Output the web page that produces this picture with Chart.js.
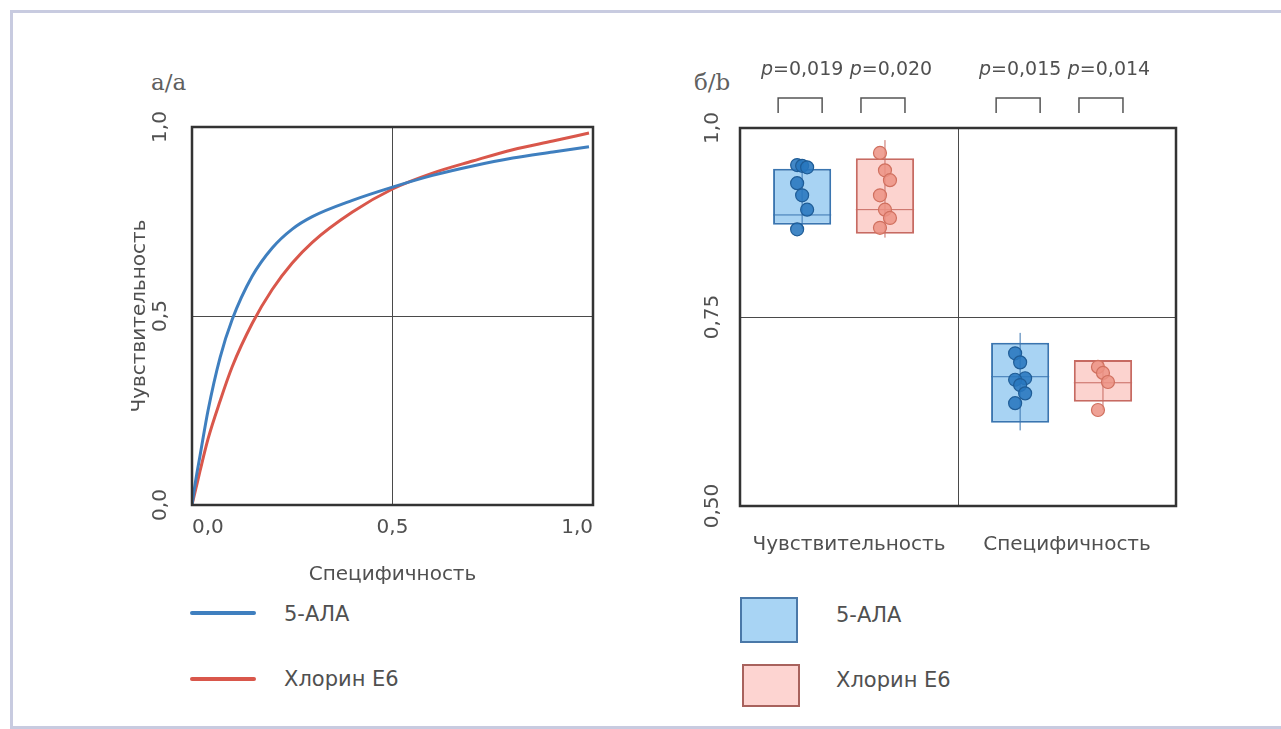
<!DOCTYPE html>
<html lang="ru">
<head>
<meta charset="utf-8">
<title>ROC-кривые: 5-АЛА и Хлорин Е6</title>
<script src="https://cdn.jsdelivr.net/npm/chart.js@4.4.1/dist/chart.umd.min.js"></script>
<style>
  html, body { margin: 0; padding: 0; background: #ffffff; }
  body { width: 1281px; height: 729px; position: relative; overflow: hidden;
         font-family: "DejaVu Sans", sans-serif; color: #505050; }
  .frame { position: absolute; left: 10px; top: 10px; width: 1320px; height: 719px;
           border: 3px solid #c8cbe0; border-right: none; box-sizing: border-box; }
  canvas { position: absolute; }
  #roc { left: 100px; top: 60px; }
  #box { left: 680px; top: 40px; }
  .panel { position: absolute; font-family: "DejaVu Serif", serif; font-size: 23px;
           line-height: 28px; color: #606060; }
  .lg-text { position: absolute; font-size: 21px; line-height: 26px; color: #505050; }
  .lg-line { position: absolute; height: 4px; border-radius: 2px; }
  .lg-box { position: absolute; box-sizing: border-box; border: 2.5px solid; }
</style>
</head>
<body>
<div class="frame"></div>

<div class="panel" style="left:151px; top:68px;">a/a</div>
<div class="panel" style="left:694px; top:68px;">б/b</div>

<canvas id="roc" width="510" height="540"></canvas>
<canvas id="box" width="560" height="540"></canvas>

<!-- legend of the ROC panel -->
<div class="lg-line" style="left:190px; top:611px; width:66px; background:#3f7fbf;"></div>
<div class="lg-text" style="left:284px; top:601px;">5-АЛА</div>
<div class="lg-line" style="left:190px; top:677px; width:66px; background:#d9574b;"></div>
<div class="lg-text" style="left:284px; top:666px;">Хлорин Е6</div>

<!-- legend of the box panel -->
<div class="lg-box" style="left:740px; top:597px; width:58px; height:46px; background:#a8d4f4; border-color:#4a78a8;"></div>
<div class="lg-text" style="left:836px; top:602px;">5-АЛА</div>
<div class="lg-box" style="left:742px; top:664px; width:58px; height:43px; background:#fdd4d1; border-color:#a8625d;"></div>
<div class="lg-text" style="left:836px; top:667px;">Хлорин Е6</div>

<script>
// ---- ROC curves ----
const rocFpr     = [0, 0.01, 0.02, 0.04, 0.07, 0.10, 0.15, 0.20, 0.25, 0.30, 0.40, 0.50, 0.60, 0.70, 0.80, 0.90, 0.99];
const rocAla     = [0.00, 0.07, 0.13, 0.25, 0.39, 0.49, 0.605, 0.68, 0.73, 0.763, 0.806, 0.841, 0.872, 0.897, 0.918, 0.934, 0.948];
const rocChlorin = [0.00, 0.045, 0.09, 0.175, 0.275, 0.365, 0.48, 0.57, 0.64, 0.695, 0.775, 0.836, 0.878, 0.910, 0.940, 0.963, 0.984];
const rocTickLabels = ['0,0', '0,5', '1,0'];

// ---- Box plots: sensitivity and specificity ----
const groups = ['Чувствительность', 'Специфичность'];
const seriesNames = ['5-АЛА', 'Хлорин Е6'];
const alaQ1  = [0.872, 0.610];
const alaMed = [0.885, 0.671];
const alaQ3  = [0.946, 0.716];
const alaMin = [0.866, 0.600];
const alaMax = [0.951, 0.729];
const alaPoints = [
  [0.951, 0.950, 0.948, 0.927, 0.911, 0.892, 0.866],
  [0.702, 0.690, 0.669, 0.667, 0.660, 0.649, 0.636]
];
const chlQ1  = [0.860, 0.638];
const chlMed = [0.892, 0.663];
const chlQ3  = [0.960, 0.693];
const chlMin = [0.855, 0.627];
const chlMax = [0.984, 0.693];
const chlPoints = [
  [0.967, 0.944, 0.931, 0.911, 0.892, 0.881, 0.868],
  [0.684, 0.676, 0.664, 0.627]
];
const alaP = ['0,019', '0,015'];
const chlP = ['0,020', '0,014'];
const boxTickLabels = ['0,50', '0,75', '1,0'];

const TEXT = '#505050';
const GRID = '#4a4a4a';
const tickFont = { family: 'DejaVu Sans', size: 20 };

// Dark frame around a plot area
const plotFrame = {
  id: 'plotFrame',
  afterDraw(chart) {
    const { ctx, chartArea: a } = chart;
    ctx.save();
    ctx.strokeStyle = '#333333';
    ctx.lineWidth = 2.5;
    ctx.strokeRect(a.left, a.top, a.right - a.left, a.bottom - a.top);
    ctx.restore();
  }
};

new Chart(document.getElementById('roc'), {
  type: 'line',
  data: {
    datasets: [
      { label: seriesNames[0], data: rocFpr.map((x, i) => ({ x, y: rocAla[i] })),
        borderColor: '#3f7fbf', borderWidth: 3, pointRadius: 0, fill: false,
        cubicInterpolationMode: 'monotone' },
      { label: seriesNames[1], data: rocFpr.map((x, i) => ({ x, y: rocChlorin[i] })),
        borderColor: '#d9574b', borderWidth: 3, pointRadius: 0, fill: false,
        cubicInterpolationMode: 'monotone' }
    ]
  },
  options: {
    responsive: false, animation: false, events: [],
    layout: { padding: { top: 67, right: 17, left: 0, bottom: 0 } },
    plugins: { legend: { display: false }, tooltip: { enabled: false } },
    scales: {
      x: {
        type: 'linear', min: 0, max: 1,
        afterFit: s => { s.height = 95; },
        border: { display: false },
        grid: { drawTicks: false, lineWidth: 1,
                color: c => (c.tick && c.tick.value === 0.5) ? GRID : 'rgba(0,0,0,0)' },
        ticks: { stepSize: 0.5, align: 'inner', padding: 11, color: TEXT, font: tickFont,
                 callback: (v, i) => rocTickLabels[i] },
        title: { display: true, text: 'Специфичность', color: TEXT, font: tickFont,
                 padding: { top: 0, bottom: 13 } }
      },
      y: {
        type: 'linear', min: 0, max: 1,
        afterFit: s => { s.width = 92; },
        border: { display: false },
        grid: { drawTicks: false, lineWidth: 1,
                color: c => (c.tick && c.tick.value === 0.5) ? GRID : 'rgba(0,0,0,0)' },
        ticks: { stepSize: 0.5, minRotation: 90, maxRotation: 90, crossAlign: 'center',
                 padding: 15, color: TEXT, font: tickFont,
                 callback: (v, i) => rocTickLabels[i] },
        title: { display: true, text: 'Чувствительность', color: TEXT, font: tickFont,
                 padding: { top: 28, bottom: 0 } }
      }
    }
  },
  plugins: [plotFrame]
});

// Per-series box statistics, in dataset order
const boxStats = [
  { med: alaMed, min: alaMin, max: alaMax, points: alaPoints, p: alaP, textShift: 0,
    line: '#3a75b0', dot: 'rgba(40,118,190,0.88)', dotEdge: '#1f5c96' },
  { med: chlMed, min: chlMin, max: chlMax, points: chlPoints, p: chlP, textShift: 6,
    line: '#c76a62', dot: 'rgba(236,146,132,0.85)', dotEdge: '#d0705f' }
];

// Whiskers, medians and individual observations on top of each box
const boxDetails = {
  id: 'boxDetails',
  afterDatasetsDraw(chart) {
    const { ctx } = chart;
    const y = chart.scales.y;
    boxStats.forEach((st, di) => {
      chart.getDatasetMeta(di).data.forEach((bar, i) => {
        const cx = bar.x, hw = bar.width / 2;
        ctx.save();
        ctx.strokeStyle = st.line;
        ctx.lineWidth = 1;
        ctx.beginPath();
        ctx.moveTo(cx, y.getPixelForValue(st.min[i]));
        ctx.lineTo(cx, y.getPixelForValue(st.max[i]));
        ctx.stroke();
        ctx.beginPath();
        ctx.moveTo(cx - hw, y.getPixelForValue(st.med[i]));
        ctx.lineTo(cx + hw, y.getPixelForValue(st.med[i]));
        ctx.stroke();
        st.points[i].forEach((v, k) => {
          const dx = ((k % 3) - 1) * 5;
          ctx.beginPath();
          ctx.arc(cx + dx, y.getPixelForValue(v), 6.5, 0, Math.PI * 2);
          ctx.fillStyle = st.dot;
          ctx.fill();
          ctx.lineWidth = 1.2;
          ctx.strokeStyle = st.dotEdge;
          ctx.stroke();
        });
        ctx.restore();
      });
    });
  }
};

// Significance brackets with p-values above every box
const pValues = {
  id: 'pValues',
  afterDraw(chart) {
    const { ctx, chartArea: a } = chart;
    boxStats.forEach((st, di) => {
      chart.getDatasetMeta(di).data.forEach((bar, i) => {
        const cx = bar.x - 2;
        ctx.save();
        ctx.strokeStyle = '#555555';
        ctx.lineWidth = 1.5;
        ctx.beginPath();
        ctx.moveTo(cx - 22, a.top - 15);
        ctx.lineTo(cx - 22, a.top - 30);
        ctx.lineTo(cx + 22, a.top - 30);
        ctx.lineTo(cx + 22, a.top - 15);
        ctx.stroke();
        const italic = 'italic 19px "DejaVu Sans"';
        const plain = '19px "DejaVu Sans"';
        const rest = '=' + st.p[i];
        ctx.font = italic;
        const w1 = ctx.measureText('p').width;
        ctx.font = plain;
        const w2 = ctx.measureText(rest).width;
        const x0 = bar.x + st.textShift - (w1 + w2) / 2;
        ctx.fillStyle = TEXT;
        ctx.textBaseline = 'middle';
        ctx.textAlign = 'left';
        ctx.font = italic;
        ctx.fillText('p', x0, a.top - 58);
        ctx.font = plain;
        ctx.fillText(rest, x0 + w1, a.top - 58);
        ctx.restore();
      });
    });
  }
};

new Chart(document.getElementById('box'), {
  type: 'bar',
  data: {
    labels: groups,
    datasets: [
      { label: seriesNames[0], data: alaQ1.map((q, i) => [q, alaQ3[i]]),
        backgroundColor: '#a8d3f3', borderColor: '#3a75b0', borderWidth: 2, borderSkipped: false,
        categoryPercentage: 0.86, barPercentage: 0.62 },
      { label: seriesNames[1], data: chlQ1.map((q, i) => [q, chlQ3[i]]),
        backgroundColor: '#fcd3cf', borderColor: '#c76a62', borderWidth: 2, borderSkipped: false,
        categoryPercentage: 0.66, barPercentage: 0.81 }
    ]
  },
  options: {
    responsive: false, animation: false, events: [],
    layout: { padding: { top: 88, right: 64, left: 0, bottom: 0 } },
    plugins: { legend: { display: false }, tooltip: { enabled: false } },
    scales: {
      x: {
        afterFit: s => { s.height = 74; },
        border: { display: false },
        grid: { drawTicks: false, lineWidth: 1,
                color: c => c.index === 1 ? GRID : 'rgba(0,0,0,0)' },
        ticks: { padding: 27, color: TEXT, font: tickFont }
      },
      y: {
        type: 'linear', min: 0.5, max: 1.0,
        afterFit: s => { s.width = 60; },
        border: { display: false },
        grid: { drawTicks: false, lineWidth: 1,
                color: c => (c.tick && c.tick.value === 0.75) ? GRID : 'rgba(0,0,0,0)' },
        ticks: { stepSize: 0.25, minRotation: 90, maxRotation: 90, crossAlign: 'center',
                 padding: 5, color: TEXT, font: tickFont,
                 callback: (v, i) => boxTickLabels[i] }
      }
    }
  },
  plugins: [boxDetails, plotFrame, pValues]
});
</script>
</body>
</html>
